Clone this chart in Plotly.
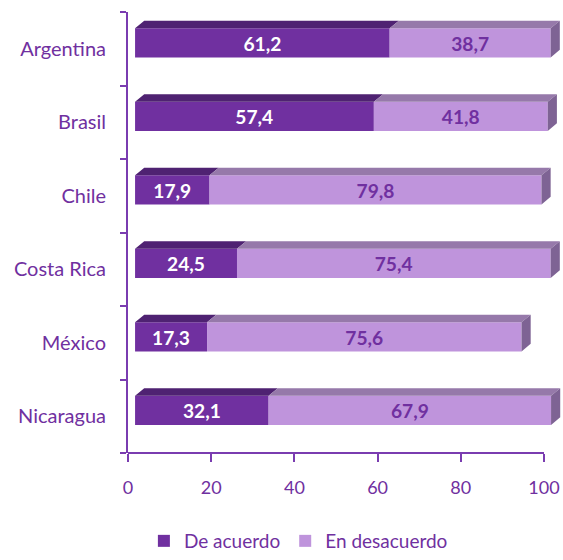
import plotly.graph_objects as go

# ---- data ----
countries = ["Argentina", "Brasil", "Chile", "Costa Rica", "México", "Nicaragua"]
de_acuerdo = [61.2, 57.4, 17.9, 24.5, 17.3, 32.1]
en_desacuerdo = [38.7, 41.8, 79.8, 75.4, 75.6, 67.9]
x_ticks = [0, 20, 40, 60, 80, 100]

# ---- style constants ----
PURPLE = "#7030A0"
AXIS = "#7A3CB0"
DARK_FRONT = "#7030A0"
DARK_TOP = "#4F2272"
LIGHT_FRONT = "#BF94DC"
LIGHT_TOP = "#9679AA"
SIDE = "#7E6394"
FONT = "Lato"

X0 = 1.7        # front-face offset from axis (x units)
DX = 2.2        # depth along x (x units)
DY = 0.105      # depth along y (category units)
BAR_W = 0.395
Y_SHIFT = 0.08

PX_PER_UNIT = 4.16
W, H = 563, 560
L, T, B = 128, 12, 107
X_MAX = (W - L) / PX_PER_UNIT

idx = list(range(len(countries)))
yc = [i - Y_SHIFT for i in idx]


def fmt(v):
    return f"{v:.1f}".replace(".", ",")


fig = go.Figure()

# front faces
fig.add_trace(go.Bar(
    x=de_acuerdo, y=yc, base=X0, orientation="h", width=BAR_W,
    marker=dict(color=DARK_FRONT, line=dict(width=0)),
    name="De acuerdo",
    text=[fmt(v) for v in de_acuerdo], textposition="inside",
    insidetextanchor="middle",
    textfont=dict(family=FONT, size=20, color="white", weight="bold"),
    hoverinfo="skip",
))
fig.add_trace(go.Bar(
    x=en_desacuerdo, y=yc, base=[X0 + a for a in de_acuerdo], orientation="h",
    width=BAR_W,
    marker=dict(color=LIGHT_FRONT, line=dict(width=0)),
    name="En desacuerdo",
    text=[fmt(v) for v in en_desacuerdo], textposition="inside",
    insidetextanchor="middle",
    textfont=dict(family=FONT, size=20, color=PURPLE, weight="bold"),
    hoverinfo="skip",
))

# 3D faces computed from the data
dark_x, dark_y, light_x, light_y, side_x, side_y = [], [], [], [], [], []
for y, a, b in zip(yc, de_acuerdo, en_desacuerdo):
    top = y - BAR_W / 2
    bot = y + BAR_W / 2
    xa = X0
    xb = X0 + a
    xc = X0 + a + b
    dark_x += [xa, xb, xb + DX, xa + DX, xa, None]
    dark_y += [top, top, top - DY, top - DY, top, None]
    light_x += [xb, xc, xc + DX, xb + DX, xb, None]
    light_y += [top, top, top - DY, top - DY, top, None]
    side_x += [xc, xc, xc + DX, xc + DX, xc, None]
    side_y += [top, bot, bot - DY, top - DY, top, None]

for xs, ys, col in [(dark_x, dark_y, DARK_TOP), (light_x, light_y, LIGHT_TOP),
                    (side_x, side_y, SIDE)]:
    fig.add_trace(go.Scatter(
        x=xs, y=ys, fill="toself", fillcolor=col, mode="lines",
        line=dict(width=0, color=col), showlegend=False, hoverinfo="skip",
        cliponaxis=False,
    ))

# x axis baseline from 0 to 100
fig.add_shape(type="line", xref="x", yref="paper", x0=x_ticks[0], x1=x_ticks[-1],
              y0=0, y1=0, line=dict(color=AXIS, width=2))

fig.update_layout(
    width=W, height=H,
    margin=dict(l=L, r=0, t=T, b=B, autoexpand=False),
    paper_bgcolor="white", plot_bgcolor="white",
    barmode="overlay",
    font=dict(family=FONT, color=PURPLE, size=17),
    showlegend=True,
    legend=dict(orientation="h", xref="container", yref="container",
                x=0.53, xanchor="center", y=0.0, yanchor="bottom",
                font=dict(family=FONT, size=19, color=PURPLE),
                traceorder="normal", itemwidth=30),
    xaxis=dict(range=[0, X_MAX], tickvals=x_ticks,
               ticktext=[str(t) for t in x_ticks],
               ticks="outside", ticklen=8, tickwidth=2, tickcolor=AXIS,
               showline=False, showgrid=False, zeroline=False,
               automargin=False,
               tickfont=dict(family=FONT, size=18, color=PURPLE),
               ticklabelstandoff=10),
    yaxis=dict(range=[len(countries) - 0.5, -0.5], tickvals=idx,
               ticktext=countries, ticks="",
               showline=True, linecolor=AXIS, linewidth=2,
               showgrid=False, zeroline=False, automargin=False,
               tickfont=dict(family=FONT, size=20, color=PURPLE),
               ticklabelstandoff=16,
               minor=dict(tickvals=[i - 0.5 for i in range(len(countries) + 1)],
                          ticks="outside", ticklen=6, tickwidth=2,
                          tickcolor=AXIS, showgrid=False)),
)

fig.write_html("out.html",
               config={"displayModeBar": False},
               post_script="document.body.style.margin='0';")
